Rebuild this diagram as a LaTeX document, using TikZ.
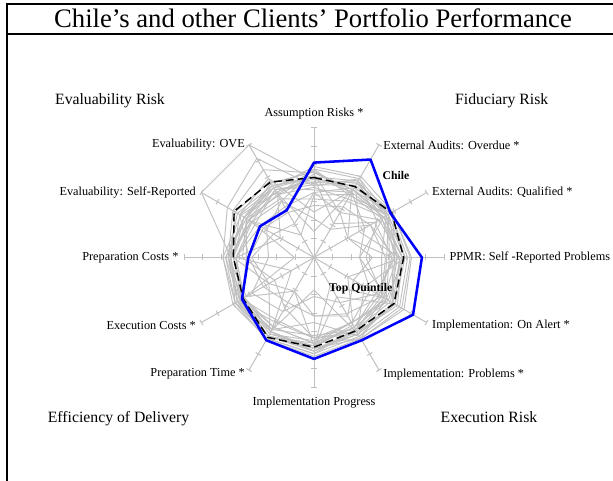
\documentclass[tikz,border=0pt]{standalone}
\usepackage{fontspec}
\setmainfont{Liberation Serif}
\usetikzlibrary{positioning, calc}
\definecolor{clientgray}{RGB}{192,192,192}
\definecolor{chileblue}{RGB}{0,0,255}

\begin{document}
\begin{tikzpicture}[
    x=0.75pt, y=0.75pt,
    frame/.style={line width=1.5pt, black},
    title/.style={font=\fontsize{20}{24}\selectfont, anchor=base},
    group/.style={font=\fontsize{11.8}{14}\selectfont, anchor=base},
    axislabel/.style={font=\fontsize{9.2}{11}\selectfont, inner sep=1pt},
    tag/.style={font=\bfseries\fontsize{8.8}{10}\selectfont, inner sep=0pt},
    axis/.style={clientgray, line width=0.75pt},
    client/.style={clientgray, line width=0.7pt, line join=round},
    quintile/.style={black, line width=1.1pt, dash pattern=on 6pt off 3pt, line join=round},
    chile/.style={chileblue, line width=1.9pt, line join=round}
]
\useasboundingbox (0,0) rectangle (613,481);
\def\R{130}

% Frame and title
\draw[frame] (7,0) -- (7,477.3) -- (613,477.3);
\draw[frame] (7,446.7) -- (613,446.7);
\node[title] (title) at (313,453) {Chile's and other Clients' Portfolio Performance};

% Axes with ticks
\coordinate (O) at (314,223.5);
\foreach \k in {0,...,11} {
  \coordinate (e\k) at ($(O)+({90-30*\k}:\R)$);
  \draw[axis] (O) -- (e\k);
  \foreach \j in {1,...,7}
    \draw[axis] ($(O)+({90-30*\k}:{\j*\R/7})$) ++({-30*\k}:3) -- ++({180-30*\k}:6);
}

% Other clients
\begin{scope}[shift={(O)}]
\foreach \row in {
  {.70,.72,.70,.75,.80,.72,.76,.73,.70,.68,.62,.62},
  {.65,.60,.68,.72,.76,.70,.74,.72,.68,.66,.72,.78},
  {.60,.66,.64,.62,.70,.68,.70,.70,.66,.64,1.0,1.0},
  {.55,.70,.60,.68,.74,.66,.72,.70,.70,.70,.77,.88},
  {.68,.55,.66,.58,.64,.72,.70,.66,.68,.66,.55,.50},
  {.50,.62,.70,.74,.78,.72,.66,.62,.62,.60,.48,.45},
  {.62,.68,.56,.40,.62,.64,.74,.72,.72,.70,.65,.58},
  {.45,.50,.62,.68,.30,.60,.68,.70,.68,.64,.58,.52},
  {.66,.58,.30,.60,.70,.68,.62,.56,.64,.62,.62,.66},
  {.58,.64,.66,.70,.72,.35,.70,.66,.20,.60,.55,.60},
  {.35,.60,.64,.52,.60,.64,.72,.70,.66,.50,.66,.70},
  {.64,.40,.58,.66,.72,.68,.25,.64,.66,.68,.60,.55},
  {.60,.66,.70,.62,.55,.62,.68,.30,.60,.66,.68,.64},
  {.52,.58,.62,.68,.66,.58,.64,.68,.64,.15,.58,.62},
  {.68,.70,.66,.56,.62,.68,.72,.66,.62,.60,.30,.56},
  {.48,.56,.60,.64,.68,.64,.60,.64,.70,.64,.56,.20},
  {.20,.62,.68,.70,.64,.58,.66,.62,.64,.66,.62,.58},
  {.62,.30,.54,.60,.58,.62,.68,.68,.40,.62,.66,.62},
  {.56,.64,.40,.66,.70,.70,.50,.64,.66,.60,.52,.60},
  {.66,.60,.62,.35,.66,.62,.66,.70,.64,.52,.60,.66},
  {.58,.68,.64,.70,.45,.66,.62,.58,.68,.64,.70,.68},
  {.54,.52,.66,.64,.62,.25,.70,.66,.62,.62,.58,.56},
  {.40,.45,.50,.55,.60,.50,.45,.40,.45,.50,.45,.40},
  {.62,.58,.45,.35,.50,.58,.62,.45,.35,.55,.60,.64},
  {.30,.25,.50,.62,.56,.40,.30,.48,.55,.35,.42,.50},
  {.50,.40,.30,.45,.35,.52,.45,.30,.40,.48,.36,.30}} {
  \foreach \v [count=\k from 0] in \row
    \coordinate (p\k) at ({90-30*\k}:{\v*\R});
  \draw[client] (p0) \foreach \k in {1,...,11} {-- (p\k)} -- cycle;
}

% Top quintile
\foreach \v [count=\k from 0] in {.615,.63,.69,.69,.71,.65,.69,.71,.63,.62,.71,.67}
  \coordinate (q\k) at ({90-30*\k}:{\v*\R});
\draw[quintile] (q0) \foreach \k in {1,...,11} {-- (q\k)} -- cycle;

% Chile
\foreach \v [count=\k from 0] in {.73,.87,.68,.83,.88,.735,.78,.735,.64,.505,.48,.42}
  \coordinate (c\k) at ({90-30*\k}:{\v*\R});
\draw[chile] (c0) \foreach \k in {1,...,11} {-- (c\k)} -- cycle;
\end{scope}

% Axis labels
\node[axislabel, anchor=south, yshift=5pt] (assume) at (e0) {Assumption Risks *};
\node[axislabel, anchor=west, xshift=2pt] (overdue) at (e1) {External Audits: Overdue *};
\node[axislabel, anchor=west, xshift=3pt] (qualified) at (e2) {External Audits: Qualified *};
\node[axislabel, anchor=west, xshift=3pt] (ppmr) at (e3) {PPMR: Self -Reported Problems};
\node[axislabel, anchor=west, xshift=3pt, yshift=-2pt] (alert) at (e4) {Implementation: On Alert *};
\node[axislabel, anchor=west, xshift=2pt, yshift=-3pt] (problems) at (e5) {Implementation: Problems *};
\node[axislabel, anchor=north, yshift=-6pt] (progress) at (e6) {Implementation Progress};
\node[axislabel, anchor=east, xshift=-2pt, yshift=-3pt] (preptime) at (e7) {Preparation Time *};
\node[axislabel, anchor=east, xshift=-3pt, yshift=-2pt] (execcost) at (e8) {Execution Costs *};
\node[axislabel, anchor=east, xshift=-3pt] (prepcost) at (e9) {Preparation Costs *};
\node[axislabel, anchor=east, xshift=-3pt] (selfrep) at (e10) {Evaluability: Self-Reported};
\node[axislabel, anchor=east, xshift=-2pt] (ove) at (e11) {Evaluability: OVE};

% Groups
\node[group] (evalrisk) at (110,376) {Evaluability Risk};
\node[group] (fidrisk) at (501.7,376) {Fiduciary Risk};
\node[group] (efficiency) at (118.5,58) {Efficiency of Delivery};
\node[group] (execrisk) at (489,58) {Execution Risk};

% Series tags
\node[tag] (chiletag) at (396,306) {Chile};
\node[tag] (toptag) at (360.8,192.7) {Top Quintile};

\end{tikzpicture}
\end{document}
